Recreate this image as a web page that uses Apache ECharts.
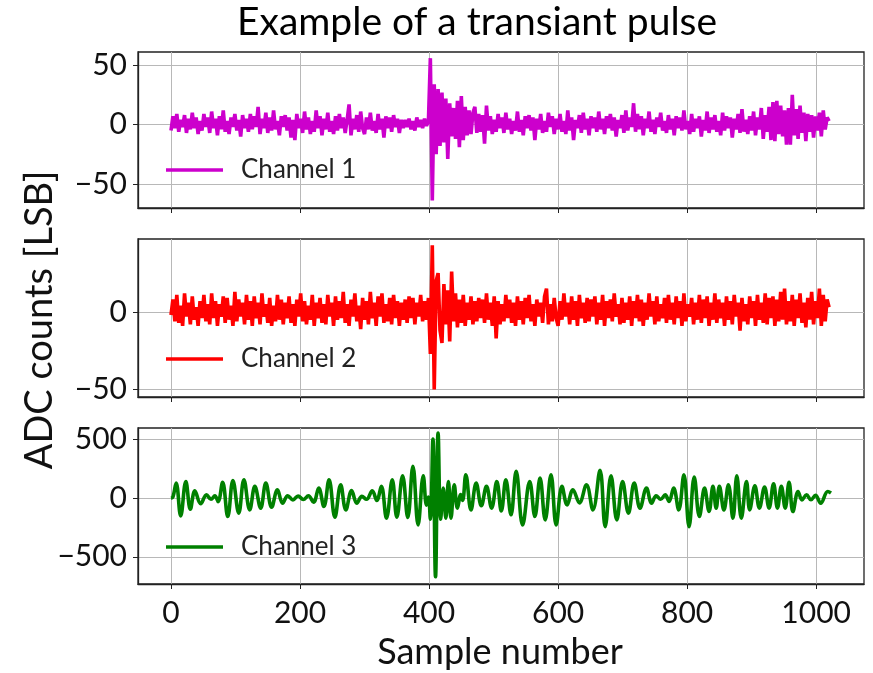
<!DOCTYPE html>
<html><head><meta charset="utf-8">
<script src="https://cdn.jsdelivr.net/npm/echarts@6/dist/echarts.min.js"></script>
<style>html,body{margin:0;padding:0;background:#fff}#c{width:873px;height:673px}</style>
</head><body><div id="c"></div>
<script>
// ---- data ----
const sampleStep = 3; // channels 1 and 2 are read every 3 samples, starting at sample 0
const xTicks = [0, 200, 400, 600, 800, 1000];
const y1Ticks = [-50, 0, 50];
const y2Ticks = [-50, 0];
const y3Ticks = [-500, 0, 500];
const seriesNames = ['Channel 1', 'Channel 2', 'Channel 3'];

const ch1Values = [
 -5,7,-3,9,-6,4,-2,8,-7,5,-4,10,-3,6,-8,3,-5,9,-2,6,
 -7,11,-3,5,-9,7,-4,12,-6,3,-8,6,-2,9,-5,4,-10,8,-3,5,
 -6,9,-4,7,-2,15,-8,5,-3,10,-7,6,-5,12,-4,3,-9,7,-2,8,
 -5,6,-11,4,-13,9,-3,5,-7,11,-4,6,-8,3,-6,12,-3,7,-9,5,
 -4,10,-6,3,-8,7,-5,9,-3,6,-7,4,17,-9,5,-4,8,-6,11,-3,
 -8,6,-4,10,-5,3,-7,9,-4,5,-11,7,-3,6,-6,8,-2,5,-7,4,
 -3,4,-2,5,-4,3,-5,6,-2,4,-3,5,-1,3,56,-64,34,-25,30,-18,
 27,-15,22,-29,18,-10,14,-12,20,-19,24,-13,15,-9,12,-8,10,15,-7,9,
 -6,8,-16,16,-5,7,-8,4,-6,9,-3,6,-7,10,-4,5,-8,3,-5,11,
 -6,4,-9,7,-3,8,-5,6,-13,5,-4,9,-7,3,-6,10,-2,7,-8,5,
 -4,9,-6,3,-8,12,-5,6,-13,4,-3,8,-7,10,-4,5,-9,7,-3,6,
 -6,11,-4,5,-8,7,-3,9,-5,6,-10,4,-3,8,-7,12,-5,6,-2,18,
 -6,9,-4,7,-9,5,-3,11,-6,4,-8,6,-2,10,-5,3,-7,8,-4,5,
 -9,7,-3,6,-5,12,-4,3,-8,9,-6,5,-3,7,-10,4,-5,11,-7,6,
 -4,8,-6,3,-9,10,-5,7,-3,6,-11,5,-4,9,-7,13,-6,4,-8,7,
 -5,11,-9,6,-4,14,-12,8,-6,15,-13,19,-14,20,-8,16,-10,12,-17,14,
 -17,25,-9,13,-12,16,-7,10,-14,9,-6,8,-11,7,-5,10,-10,12,-4,6,
 3
];

const ch2Values = [
 -2,8,-6,11,-7,4,-9,12,-3,6,-8,10,-5,3,-9,7,-4,11,-6,5,
 -8,12,-4,7,-9,5,-3,10,-7,9,-5,4,-9,13,-6,8,-3,6,-8,11,
 -5,7,-9,10,-4,6,-8,12,-3,5,-7,9,-9,4,-6,11,-5,8,-8,6,
 -4,10,-7,5,-9,8,-3,12,-6,7,-8,4,-5,11,-9,6,-4,9,-7,5,
 -8,11,-3,6,-9,10,-5,7,-4,13,-7,5,-9,8,-3,12,-6,4,-11,9,
 -5,7,-8,13,-4,6,-9,10,-3,12,-7,5,-6,9,-8,11,-4,7,-9,6,
 -5,8,-7,10,-4,9,-8,6,-3,11,-6,7,-5,9,-27,43,-50,20,25,-12,
 -20,18,-8,14,-19,26,-6,12,-10,8,-7,11,-9,6,-5,10,-8,7,-6,9,
 -4,8,-7,12,-5,6,-9,10,-17,7,-8,5,-6,11,-4,8,-7,6,-9,10,
 -5,7,-8,9,-4,11,-6,5,-9,8,-3,6,-7,10,15,-8,5,-6,9,-4,
 -9,7,-5,12,-3,6,-8,10,-5,7,-9,11,-4,6,-7,9,-6,8,-3,10,
 -8,6,-5,11,-9,7,-4,8,-6,12,-3,5,-8,9,-7,6,-5,10,-9,7,
 -4,11,-6,8,-9,6,-5,12,-3,7,-8,10,-6,5,-4,9,-7,11,-5,6,
 -8,10,-4,7,-9,12,-6,5,-3,9,-8,6,-5,11,-7,8,-4,10,-9,6,
 -5,12,-7,8,-4,6,-9,10,-5,7,-8,11,-3,6,-12,9,-6,5,-8,10,
 -4,7,-9,11,-5,6,-7,12,-8,9,-4,10,-9,8,-6,13,-5,15,-8,7,
 -6,11,-9,8,-4,12,-7,6,-10,9,-5,13,-8,7,-4,15,-9,11,-6,8,
 3
];

const ch3Samples = [
 0,3,8,15,23,30,37,46,55,62, 68,73,80,88,96,105,113,122,130,139,
 147,156,165,173,181,189,197,205,213,221, 229,237,245,254,263,271,280,288,296,303,
 312,319,326,334,343,350,359,367,375,383, 391,396,399,402,406,410,414,418,422,426,
 430,434,439,444,449,452,457,465,473,481, 489,497,505,512,519,527,535,545,556,564,
 572,580,589,597,606,614,623,633,644,654, 665,673,682,691,700,709,718,727,737,745,
 752,759,766,772,779,787,795,803,811,819, 827,834,840,845,850,857,864,871,877,884,
 892,897,905,912,920,927,934,940,946,952, 958,964,972,978,985,992,999,1007,1018,1023
];
const ch3Values = [
 0,10,128,-151,142,-94,63,-48,28,-10, 20,-30,134,-157,151,-128,157,-100,100,-85,
 128,-77,71,-43,20,-15,18,-12,20,-35, 85,-71,157,-162,114,-100,65,-43,15,-10,
 63,-20,100,-171,157,-162,191,-165,271,-228, 191,-60,10,-180,504,-670,556,-180,85,-171,
 142,-171,114,-85,30,-20,200,-100,128,-65, 100,-85,142,-110,157,-142,228,-228,142,-157,
 171,-185,200,-228,100,-57,71,-40,114,-100, 237,-243,191,-185,142,-128,128,-85,85,-43,
 20,-10,28,-28,85,-100,200,-243,180,-157, 85,-114,100,-85,100,-100,114,-171,191,-171,
 142,-100,105,-85,94,-85,122,-85,100,-85, 134,-114,57,-15,28,-14,25,-43,57,43
];

// ---- chart ----
const FONT = 'Lato';
const colors = ['#cc00cc', '#ff0000', '#008000'];
const ch1Data = ch1Values.map((v, i) => [i * sampleStep, v]);
const ch2Data = ch2Values.map((v, i) => [i * sampleStep, v]);
const ch3Data = ch3Samples.map((s, i) => [s, ch3Values[i]]);

const grids = [
  {top: 52, height: 156},
  {top: 239, height: 158},
  {top: 428, height: 156}
];
const yRanges = [[-70.3, 61.2], [-54.8, 47.0], [-732, 598]];
const yTickSets = [y1Ticks, y2Ticks, y3Ticks];
const fmt = v => (v < 0 ? '\u2212' + Math.abs(v) : String(v));

const option = {
  animation: false,
  backgroundColor: '#fff',
  grid: grids.map(g => ({left: 138, right: 9, top: g.top, height: g.height, show: true,
    borderColor: '#222', borderWidth: 1.3, backgroundColor: 'transparent'})),
  xAxis: grids.map((g, i) => ({
    gridIndex: i, type: 'value', min: -51.15, max: 1074.15,
    axisLine: {show: true, onZero: false, lineStyle: {color: '#222', width: 1.3}},
    axisTick: {show: true, length: 5, customValues: xTicks, lineStyle: {color: '#222', width: 1}},
    axisLabel: {show: i === 2, customValues: xTicks, formatter: fmt, fontSize: 30, margin: 14,
      color: '#111', fontFamily: FONT},
    splitLine: {show: true, lineStyle: {color: '#b8b8b8', width: 1}}
  })),
  yAxis: grids.map((g, i) => ({
    gridIndex: i, type: 'value', min: yRanges[i][0], max: yRanges[i][1],
    axisLine: {show: true, onZero: false, lineStyle: {color: '#222', width: 1.3}},
    axisTick: {show: true, length: 5, customValues: yTickSets[i], lineStyle: {color: '#222', width: 1}},
    axisLabel: {show: true, customValues: yTickSets[i], formatter: fmt, fontSize: 30, margin: 11,
      color: '#111', fontFamily: FONT},
    splitLine: {show: true, lineStyle: {color: '#b8b8b8', width: 1}}
  })),
  legend: [0, 1, 2].map(i => ({
    data: [seriesNames[i]], left: 161, top: [152, 341, 529][i], icon: 'rect',
    itemWidth: 57, itemHeight: 3.3, itemGap: 0,
    textStyle: {fontSize: 26, fontFamily: FONT, color: '#222', padding: [0, 0, 0, 13]}
  })),
  series: [
    {name: seriesNames[0], type: 'line', xAxisIndex: 0, yAxisIndex: 0, data: ch1Data,
      showSymbol: false, lineStyle: {width: 3.6, color: colors[0]}, itemStyle: {color: colors[0]}},
    {name: seriesNames[1], type: 'line', xAxisIndex: 1, yAxisIndex: 1, data: ch2Data,
      showSymbol: false, lineStyle: {width: 3.6, color: colors[1]}, itemStyle: {color: colors[1]}},
    {name: seriesNames[2], type: 'line', xAxisIndex: 2, yAxisIndex: 2, data: ch3Data,
      showSymbol: false, smooth: 0.4, lineStyle: {width: 3.6, color: colors[2]}, itemStyle: {color: colors[2]}}
  ],
  graphic: [
    {type: 'text', x: 477, y: 22, style: {text: 'Example of a transiant pulse', fontSize: 39,
      fontFamily: FONT, fill: '#000', align: 'center', verticalAlign: 'middle'}},
    {type: 'text', x: 40, y: 320, rotation: Math.PI / 2, style: {text: 'ADC counts [LSB]', fontSize: 38,
      fontFamily: FONT, fill: '#111', align: 'center', verticalAlign: 'middle'}},
    {type: 'text', x: 500, y: 652, style: {text: 'Sample number', fontSize: 36,
      fontFamily: FONT, fill: '#111', align: 'center', verticalAlign: 'middle'}}
  ]
};
const chart = echarts.init(document.getElementById('c'), null, {renderer: 'canvas'});
chart.setOption(option);
</script></body></html>
